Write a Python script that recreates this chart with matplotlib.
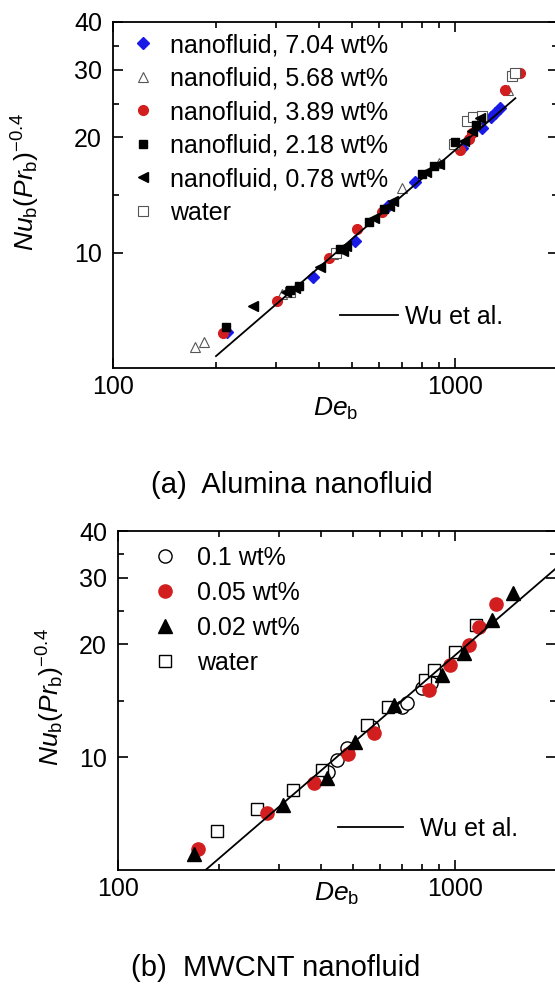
import matplotlib.pyplot as plt
from matplotlib.ticker import FixedLocator, FixedFormatter, NullFormatter

plt.rcParams['font.family'] = ['Liberation Sans', 'DejaVu Sans']
plt.rcParams['mathtext.fontset'] = 'custom'
plt.rcParams['mathtext.rm'] = 'Liberation Sans'
plt.rcParams['mathtext.it'] = 'Liberation Sans:italic'

# (a) alumina nanofluid: De_b, Nu_b*Pr_b^-0.4
al_704_de = [215, 384, 510, 636, 763, 1050, 1200, 1270, 1310, 1350]
al_704_nu = [6.2, 8.66, 10.7, 13.2, 15.3, 18.7, 21.1, 22.6, 23.2, 23.9]
al_568_de = [174, 185, 312, 440, 700, 900, 1160, 1430]
al_568_nu = [5.66, 5.84, 7.8, 9.9, 14.75, 17.1, 22.0, 26.5]
al_389_de = [210, 302, 428, 517, 610, 1035, 1100, 1120, 1400, 1550]
al_389_nu = [6.16, 7.46, 9.7, 11.5, 12.8, 18.5, 19.8, 20.5, 26.5, 29.4]
al_218_de = [214, 330, 350, 460, 560, 620, 800, 870, 1000, 1150]
al_218_nu = [6.4, 8.0, 8.2, 10.2, 12.0, 13.0, 16.0, 16.8, 19.5, 21.5]
al_078_de = [257, 320, 340, 404, 470, 480, 580, 640, 660, 820, 900, 1060, 1120, 1180]
al_078_nu = [7.24, 7.9, 8.1, 9.2, 10.1, 10.4, 12.3, 13.2, 13.6, 16.2, 17.0, 19.6, 20.8, 22.5]
al_water_de = [330, 450, 990, 1080, 1130, 1200, 1470, 1500]
al_water_nu = [7.9, 10.0, 19.2, 22.0, 22.6, 22.8, 28.9, 29.5]
wu_a_de = [200, 1500]
wu_a_nu = [5.37, 25.3]

# (b) MWCNT nanofluid
mw_01_de = [422, 447, 478, 570, 700, 720, 798, 852]
mw_01_nu = [9.1, 9.8, 10.6, 12.0, 13.6, 13.9, 15.3, 15.75]
mw_005_de = [173, 277, 381, 482, 578, 840, 970, 1100, 1185, 1330]
mw_005_nu = [5.68, 7.1, 8.52, 10.2, 11.6, 15.1, 17.6, 19.9, 22.2, 25.6]
mw_002_de = [168, 309, 417, 505, 660, 915, 1070, 1290, 1490]
mw_002_nu = [5.5, 7.45, 8.79, 10.95, 13.8, 16.5, 18.9, 23.2, 27.4]
mw_water_de = [197, 258, 330, 403, 549, 636, 815, 870, 1000, 1160]
mw_water_nu = [6.35, 7.27, 8.16, 9.25, 12.2, 13.6, 16.0, 17.1, 19.05, 22.5]
wu_b_de = [182, 2000]
wu_b_nu = [5.0, 31.8]

BLUE = '#1a1ae6'
RED = '#d21e1e'
FS = 18


def style_axes(ax, xlab_y, ylab_x, ylab_y):
    ax.set_xscale('log')
    ax.set_yscale('log')
    ax.set_xlim(100, 2000)
    ax.set_ylim(5, 40)
    ax.xaxis.set_major_locator(FixedLocator([100, 1000]))
    ax.xaxis.set_major_formatter(FixedFormatter(['100', '1000']))
    ax.xaxis.set_minor_locator(FixedLocator([200, 300, 400, 500, 600, 700, 800, 900]))
    ax.xaxis.set_minor_formatter(NullFormatter())
    ax.yaxis.set_major_locator(FixedLocator([10, 20, 30, 40]))
    ax.yaxis.set_major_formatter(FixedFormatter(['10', '20', '30', '40']))
    ax.yaxis.set_minor_locator(FixedLocator([14.14, 24.49, 34.64]))
    ax.yaxis.set_minor_formatter(NullFormatter())
    ax.tick_params(which='both', direction='in', top=True, right=True,
                   labelsize=FS, width=1.2)
    ax.tick_params(which='major', length=7)
    ax.tick_params(which='minor', length=4)
    ax.tick_params(axis='x', pad=5)
    ax.tick_params(axis='y', pad=8)
    for s in ax.spines.values():
        s.set_linewidth(1.3)
    ax.set_xlabel(r'$\mathit{De}_\mathrm{b}$', fontsize=19)
    ax.set_ylabel(r'$\mathit{Nu}_\mathrm{b}(\mathit{Pr}_\mathrm{b})^{-0.4}$', fontsize=19)
    ax.xaxis.set_label_coords(0.5, xlab_y)
    ax.yaxis.set_label_coords(ylab_x, ylab_y)


fig = plt.figure(figsize=(5.55, 9.9), dpi=100)
ax_a = fig.add_axes([0.2036, 0.6283, 0.802, 0.3495])
ax_b = fig.add_axes([0.2126, 0.1212, 0.789, 0.3424])

# panel (a)
ms = 7
h1, = ax_a.plot(al_704_de, al_704_nu, 'D', color=BLUE, ms=ms - 0.5, mec=BLUE,
                label='nanofluid, 7.04 wt%')
h2, = ax_a.plot(al_568_de, al_568_nu, '^', mfc='white', mec='#555555', ms=ms,
                mew=0.8, label='nanofluid, 5.68 wt%')
h3, = ax_a.plot(al_389_de, al_389_nu, 'o', color=RED, ms=ms, mec=RED,
                label='nanofluid, 3.89 wt%')
h6, = ax_a.plot(al_water_de, al_water_nu, 's', mfc='white', mec='#555555', ms=ms,
                mew=0.8, label='water')
h4, = ax_a.plot(al_218_de, al_218_nu, 's', color='black', ms=ms - 1,
                label='nanofluid, 2.18 wt%')
h5, = ax_a.plot(al_078_de, al_078_nu, '<', color='black', ms=ms,
                label='nanofluid, 0.78 wt%')
wa, = ax_a.plot(wu_a_de, wu_a_nu, '-', color='black', lw=1.3, label='Wu et al.')
style_axes(ax_a, -0.08, -0.16, 0.537)
leg = ax_a.legend(handles=[h1, h2, h3, h4, h5, h6], loc='upper left',
                  bbox_to_anchor=(0.039, 0.968), frameon=False, fontsize=FS,
                  handlelength=1.0, handletextpad=0.58, labelspacing=0.38,
                  borderaxespad=0, borderpad=0)
ax_a.add_artist(leg)
ax_a.legend(handles=[wa], loc='center left', bbox_to_anchor=(0.51, 0.148),
            frameon=False, fontsize=FS, handlelength=2.3, handletextpad=0.28,
            borderaxespad=0, borderpad=0)
fig.text(0.526, 0.51, '(a)  Alumina nanofluid', ha='center', va='center', fontsize=21)

# panel (b)
mb = 9.5
g1, = ax_b.plot(mw_01_de, mw_01_nu, 'o', mfc='white', mec='black', ms=mb,
                mew=1.0, label='0.1 wt%')
g4, = ax_b.plot(mw_water_de, mw_water_nu, 's', mfc='white', mec='black', ms=mb - 1,
                mew=1.0, label='water')
g2, = ax_b.plot(mw_005_de, mw_005_nu, 'o', color=RED, ms=mb, mec=RED,
                label='0.05 wt%')
g3, = ax_b.plot(mw_002_de, mw_002_nu, '^', color='black', ms=mb,
                label='0.02 wt%')
wb, = ax_b.plot(wu_b_de, wu_b_nu, '-', color='black', lw=1.3, label='Wu et al.')
style_axes(ax_b, -0.032, -0.116, 0.51)
leg = ax_b.legend(handles=[g1, g2, g3, g4], loc='upper left',
                  bbox_to_anchor=(0.079, 0.956), frameon=False, fontsize=FS,
                  handlelength=1.0, handletextpad=0.78, labelspacing=0.44,
                  borderaxespad=0, borderpad=0)
ax_b.add_artist(leg)
ax_b.legend(handles=[wb], loc='center left', bbox_to_anchor=(0.502, 0.122),
            frameon=False, fontsize=FS, handlelength=2.6, handletextpad=0.68,
            borderaxespad=0, borderpad=0)
fig.text(0.497, 0.022, '(b)  MWCNT nanofluid', ha='center', va='center', fontsize=21)

fig.savefig('out.png', dpi=100)
